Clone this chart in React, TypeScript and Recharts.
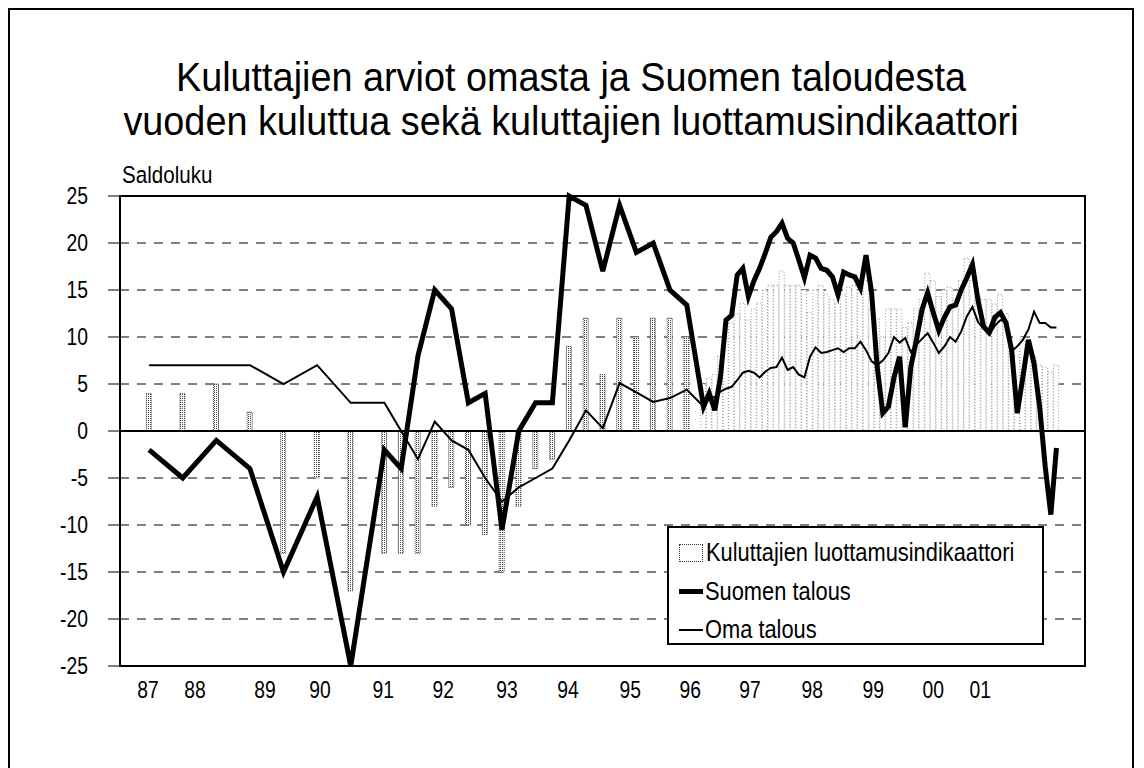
import React from 'react';
import { ComposedChart, Bar, Cell, Line, XAxis, YAxis, CartesianGrid, ReferenceLine, ReferenceArea } from 'recharts';

// survey month index (first observation = 0); semi-annual, then quarterly, then monthly
const months = [
  0, 6, 12, 18, 24, 30, 36, 42,
  45, 48, 51, 54, 57, 60, 63, 66, 69, 72, 75, 78, 81, 84, 87, 90, 93, 96,
  99, 100, 101, 102, 103, 104, 105, 106, 107, 108, 109, 110, 111, 112, 113, 114,
  115, 116, 117, 118, 119, 120, 121, 122, 123, 124, 125, 126, 127, 128, 129, 130,
  131, 132, 133, 134, 135, 136, 137, 138, 139, 140, 141, 142, 143, 144, 145, 146,
  147, 148, 149, 150, 151, 152, 153, 154, 155, 156, 157, 158, 159, 160, 161, 162,
];

const suomenTalous = [
  -2, -5, -1, -4, -15, -7, -25, -2,
  -4, 8, 15, 13, 3, 4, -10.5, 0, 3, 3, 25, 24, 17, 24, 19, 20, 15, 13.4,
  2.6, 4, 2.2, 5.7, 11.8, 12.3, 16.6, 17.3, 14.3, 16, 17.3, 18.9, 20.6, 21.2, 22.1, 20.5,
  20, 18.2, 16.3, 18.7, 18.4, 17.3, 17.1, 16.4, 14.5, 16.9, 16.6, 16.4, 15.2, 18.7, 14.7, 6.8,
  1.9, 2.6, 5.7, 7.9, 0.4, 6.8, 9.7, 12.9, 14.7, 12.6, 10.7, 12.1, 13.2, 13.4, 15, 16.3,
  17.7, 13.9, 11.1, 10.5, 12.1, 12.6, 11.5, 8.6, 1.9, 5.7, 9.7, 7.2, 2.6, -3.8, -8.9, -1.8,
];

const omaTalous = [
  7, 7, 7, 7, 5, 7, 3, 3,
  0, -3, 1, -1, -2, -5, -7.5, -6, -5, -4, -1, 2.2, 0.3, 5.1, 4.1, 3.1, 3.5, 4.4,
  2.6, 3.6, 3.6, 4.2, 4.5, 4.7, 5.4, 6.2, 6.4, 6.2, 5.7, 6.3, 6.7, 6.8, 7.8, 6.5,
  6.8, 6, 5.7, 7.9, 8.9, 8.3, 8.4, 8.6, 8.8, 8.4, 8.8, 8.8, 9.5, 8.6, 7.4, 7,
  7.5, 8.3, 10, 9.4, 9.9, 8.4, 9.2, 9.8, 10.4, 9.4, 8.3, 9, 10, 9.5, 10.6, 12.2,
  13.2, 11.6, 10.9, 10.2, 11.2, 11.8, 11.6, 8.5, 9, 9.7, 10.8, 12.7, 11.5, 11.5, 11, 11,
];

const luottamus = [
  4, 4, 5, 2, -13, -5, -17, -13,
  -13, -13, -8, -6, -10, -11, -15, -8, -4, -3, 9, 12, 6, 12, 10, 12, 12, 10,
  5, 5.6, 6, 8, 10, 11.5, 12.5, 13.6, 11.8, 13, 13.6, 15, 15.5, 15.5, 17, 15.5,
  15.5, 15.5, 15, 12.6, 15, 15.5, 14.5, 14, 13.6, 14.5, 15.3, 15.5, 15, 16, 13, 12,
  10, 13, 13, 13, 11, 11.5, 13, 14, 16.8, 16, 14.3, 15, 15.3, 14, 16, 18.4,
  16, 14.5, 14, 14, 13.5, 14.5, 12.5, 9, 8, 10, 9, 8, 7, 6.8, 6.3, 7,
];

const yearTickPos = [-0.2, 8.2, 20.7, 30.5, 41.8, 52.5, 63.9, 74.8, 85.9, 96.6, 107.3, 118.4, 129.3, 140, 148.4];
const yearLabels = ['87', '88', '89', '90', '91', '92', '93', '94', '95', '96', '97', '98', '99', '00', '01'];
const yTicks = [25, 20, 15, 10, 5, 0, -5, -10, -15, -20, -25];

const data = months.map((m, i) => ({
  m,
  suomi: suomenTalous[i],
  oma: omaTalous[i],
  indik: luottamus[i],
}));

const font = "'Liberation Sans', Arial, sans-serif";
const narrow = 'scaleX(0.84)';

const YTick = (props: any) => {
  const { x, y, payload } = props;
  return (
    <text transform={`translate(${x},${y}) scale(0.84,1)`} textAnchor="end" dy="0.36em" fontSize={23} fontFamily={font} fill="#000">
      {payload.value}
    </text>
  );
};

const XTick = (props: any) => {
  const { x, y, payload } = props;
  return (
    <text transform={`translate(${x},${y}) scale(0.84,1)`} textAnchor="middle" dy="0.71em" fontSize={23} fontFamily={font} fill="#000">
      {yearLabels[yearTickPos.indexOf(payload.value)] ?? ''}
    </text>
  );
};

function NarrowText({ children, style }: { children: React.ReactNode; style?: React.CSSProperties }) {
  return <span style={{ display: 'inline-block', transform: narrow, transformOrigin: 'left center', whiteSpace: 'nowrap', ...style }}>{children}</span>;
}

const titleLine: React.CSSProperties = {
  position: 'absolute',
  left: 0,
  width: 1122,
  textAlign: 'center',
  fontSize: 40,
  lineHeight: '44px',
  height: 44,
  color: '#000',
  transform: 'scaleX(0.945)',
  transformOrigin: '561px 0',
};

export default function App() {
  return (
    <div style={{ position: 'relative', width: 1126, height: 780, border: '2px solid #000', boxSizing: 'border-box', background: '#fff', fontFamily: font }}>
      <div style={{ ...titleLine, top: 45 }}>Kuluttajien arviot omasta ja Suomen taloudesta</div>
      <div style={{ ...titleLine, top: 89 }}>vuoden kuluttua sekä kuluttajien luottamusindikaattori</div>
      <div style={{ position: 'absolute', left: 112, top: 151, fontSize: 24.5, color: '#000' }}>
        <NarrowText>Saldoluku</NarrowText>
      </div>

      <ComposedChart
        width={1116}
        height={716}
        data={data}
        margin={{ top: 186, right: 41, bottom: 20, left: 0 }}
        style={{ position: 'absolute', left: 0, top: 0 }}
      >
        <defs>
          <pattern id="dots" width="2" height="2" patternUnits="userSpaceOnUse">
            <rect width="2" height="2" fill="#fff" />
            <rect width="1" height="1" fill="#444" />
          </pattern>
        </defs>
        <CartesianGrid vertical={false} stroke="#000" strokeDasharray="9 8" />
        <XAxis
          dataKey="m"
          type="number"
          domain={[-5.2, 167.1]}
          ticks={yearTickPos}
          interval={0}
          allowDataOverflow
          axisLine={false}
          tickLine={false}
          tickSize={6}
          tickMargin={10}
          height={40}
          tick={<XTick />}
        />
        <YAxis
          type="number"
          domain={[-25, 25]}
          ticks={yTicks}
          interval={0}
          width={110}
          axisLine={false}
          tickLine={{ stroke: '#000' }}
          tickSize={12}
          tickMargin={20}
          tick={<YTick />}
        />
        <Bar
          dataKey="indik"
          barSize={5}
          strokeWidth={1}
          isAnimationActive={false}
        >
          {data.map((d, i) => (
            <Cell
              key={i}
              fill={d.m < 99 ? 'url(#dots)' : '#fff'}
              stroke={d.m < 99 ? '#444' : '#999'}
              strokeDasharray={d.m < 99 ? '1 1' : '1 2'}
            />
          ))}
        </Bar>
        <ReferenceLine y={0} stroke="#000" strokeWidth={2} />
        <Line type="linear" dataKey="oma" stroke="#000" strokeWidth={2} dot={false} isAnimationActive={false} />
        <Line type="linear" dataKey="suomi" stroke="#000" strokeWidth={5} dot={false} isAnimationActive={false} />
        <ReferenceArea x1={-5.2} x2={167.1} y1={-25} y2={25} fill="none" stroke="#000" strokeWidth={2} ifOverflow="visible" />
      </ComposedChart>

      <div style={{ position: 'absolute', left: 657, top: 516, width: 377, height: 119, border: '2px solid #000', boxSizing: 'border-box', background: '#fff', fontSize: 26, color: '#000' }}>
        <div style={{ position: 'absolute', left: 10, top: 9, display: 'flex', alignItems: 'center' }}>
          <span style={{ display: 'inline-block', width: 22, height: 16, border: '1px dotted #333', background: '#fff', marginRight: 3 }} />
          <NarrowText>Kuluttajien luottamusindikaattori</NarrowText>
        </div>
        <div style={{ position: 'absolute', left: 10, top: 48, display: 'flex', alignItems: 'center' }}>
          <span style={{ display: 'inline-block', width: 24, height: 5, background: '#000', marginRight: 2 }} />
          <NarrowText>Suomen talous</NarrowText>
        </div>
        <div style={{ position: 'absolute', left: 10, top: 86, display: 'flex', alignItems: 'center' }}>
          <span style={{ display: 'inline-block', width: 24, height: 2, background: '#000', marginRight: 2 }} />
          <NarrowText>Oma talous</NarrowText>
        </div>
      </div>
    </div>
  );
}
